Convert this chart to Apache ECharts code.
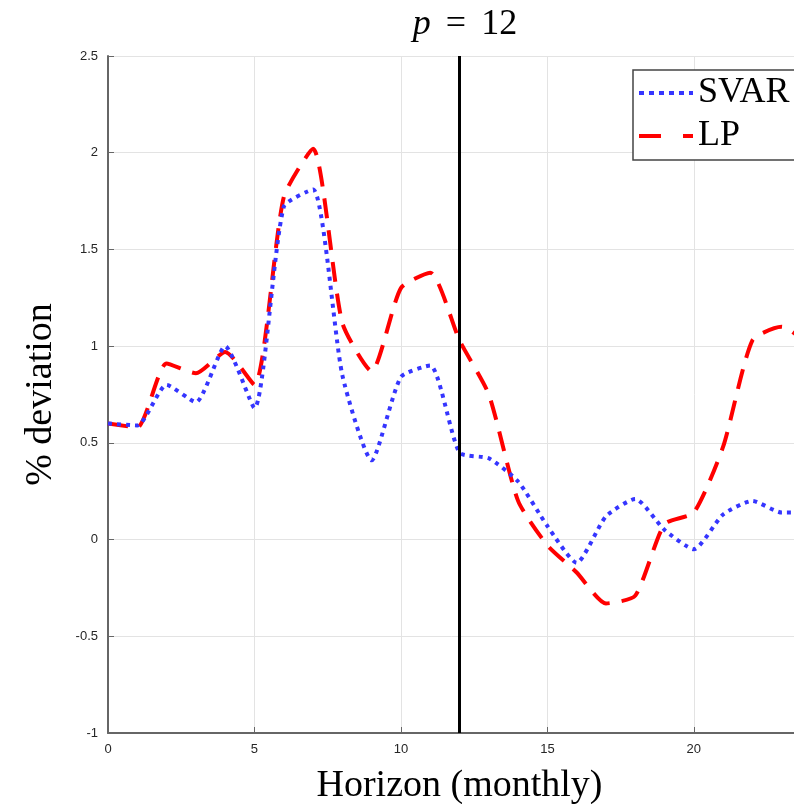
<!DOCTYPE html>
<html>
<head>
<meta charset="utf-8">
<script src="https://cdn.jsdelivr.net/npm/echarts@6/dist/echarts.min.js"></script>
<style>
  html, body { margin: 0; padding: 0; background: #fff; }
  #chart { width: 794px; height: 804px; }
</style>
</head>
<body>
<div id="chart"></div>
<script>
// horizons 0..24 (monthly)
const horizon = [0, 1, 2, 3, 4, 5, 6, 7, 8, 9, 10, 11, 12, 13, 14, 15, 16, 17, 18, 19, 20, 21, 22, 23, 24]
const svar = [0.60, 0.59, 0.80, 0.71, 1.00, 0.68, 1.72, 1.81, 0.85, 0.41, 0.84, 0.90, 0.45, 0.42, 0.30, 0.07, -0.12, 0.12, 0.21, 0.05, -0.05, 0.13, 0.20, 0.14, 0.14]
const lp = [0.60, 0.58, 0.91, 0.86, 0.97, 0.80, 1.77, 2.02, 1.12, 0.87, 1.30, 1.38, 1.03, 0.75, 0.20, -0.03, -0.17, -0.33, -0.29, 0.08, 0.14, 0.48, 1.03, 1.10, 1.00]
const shockHorizon = 12

const serif = "'Liberation Serif', 'DejaVu Serif', serif"
const sans = "'Liberation Sans', Arial, sans-serif"

const svarStyle = { color: '#3535ff', width: 4, type: [4, 5], cap: 'butt' }
const lpStyle = { color: '#ff0000', width: 4, type: [20, 12], cap: 'butt' }

const chart = echarts.init(document.getElementById('chart'))

chart.setOption({
  animation: false,
  title: {
    text: '{i|p}{eq|=}12',
    left: 460,
    textAlign: 'center',
    top: 2,
    textStyle: {
      fontFamily: serif,
      fontSize: 36,
      fontWeight: 'normal',
      color: '#000',
      rich: {
        i: { fontFamily: serif, fontSize: 36, fontStyle: 'italic', color: '#000' },
        eq: { fontFamily: serif, fontSize: 36, color: '#000', padding: [0, 15, 0, 15] }
      }
    }
  },
  legend: {
    left: 633,
    top: 70,
    orient: 'vertical',
    itemWidth: 54,
    itemHeight: 14,
    itemGap: 3,
    padding: [3, 40, 4, 4],
    borderColor: '#444',
    borderWidth: 1.5,
    backgroundColor: '#fff',
    itemStyle: { opacity: 0 },
    textStyle: { fontFamily: serif, fontSize: 36, lineHeight: 40, color: '#000' },
    data: [
      { name: 'SVAR', lineStyle: { type: [5, 5], width: 4 } },
      { name: 'LP', lineStyle: { type: [22, 22], width: 4 } }
    ]
  },
  grid: {
    left: 108,
    top: 56,
    right: -17,
    bottom: 71,
    outerBoundsMode: 'none'
  },
  xAxis: {
    type: 'value',
    min: 0,
    max: 24,
    interval: 5,
    name: 'Horizon (monthly)',
    nameLocation: 'middle',
    nameGap: 34,
    nameTextStyle: { fontFamily: serif, fontSize: 38, color: '#000' },
    axisLine: { show: true, onZero: false, lineStyle: { color: '#666', width: 2 } },
    axisTick: { inside: true, length: 6, lineStyle: { color: '#666' } },
    axisLabel: { fontFamily: sans, fontSize: 13, color: '#262626', margin: 10, showMaxLabel: false },
    splitLine: { show: true, lineStyle: { color: '#e3e3e3', width: 1 } }
  },
  yAxis: {
    type: 'value',
    min: -1,
    max: 2.5,
    interval: 0.5,
    name: '% deviation',
    nameLocation: 'middle',
    nameGap: 48,
    nameTextStyle: { fontFamily: serif, fontSize: 38, color: '#000' },
    axisLine: { show: true, onZero: false, lineStyle: { color: '#666', width: 2 } },
    axisTick: { show: true, inside: true, length: 6, lineStyle: { color: '#666' } },
    axisLabel: { fontFamily: sans, fontSize: 13, color: '#262626', margin: 10 },
    splitLine: { show: true, lineStyle: { color: '#e3e3e3', width: 1 } }
  },
  series: [
    {
      name: 'SVAR',
      type: 'line',
      data: horizon.map((h, i) => [h, svar[i]]),
      showSymbol: false,
      symbol: 'none',
      smooth: 0.2,
      z: 3,
      itemStyle: { color: svarStyle.color },
      lineStyle: svarStyle
    },
    {
      name: 'LP',
      type: 'line',
      data: horizon.map((h, i) => [h, lp[i]]),
      showSymbol: false,
      symbol: 'none',
      smooth: 0.2,
      z: 2,
      itemStyle: { color: lpStyle.color },
      lineStyle: lpStyle,
      markLine: {
        silent: true,
        symbol: 'none',
        label: { show: false },
        lineStyle: { color: '#000', width: 3, type: 'solid' },
        data: [{ xAxis: shockHorizon }]
      }
    }
  ]
})
</script>
</body>
</html>
